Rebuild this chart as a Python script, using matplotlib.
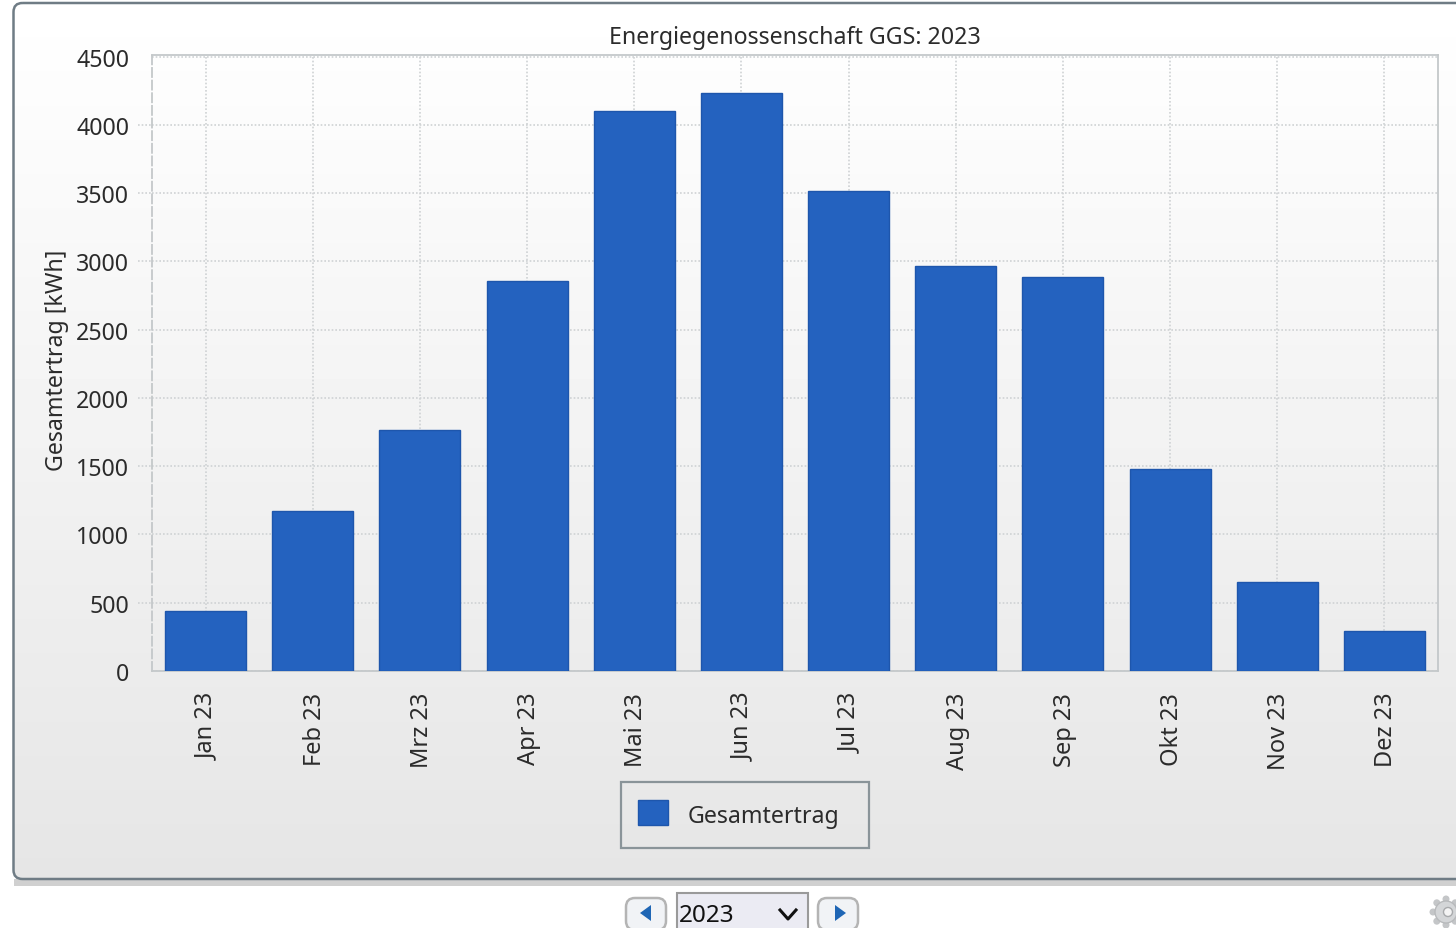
import numpy as np
import matplotlib
matplotlib.use("Agg")
import matplotlib.pyplot as plt
from matplotlib.patches import FancyBboxPatch, Rectangle, Circle, Polygon
from matplotlib.transforms import ScaledTranslation

plt.rcParams['font.family'] = ['Noto Sans', 'DejaVu Sans']

months = ["Jan 23", "Feb 23", "Mrz 23", "Apr 23", "Mai 23", "Jun 23",
          "Jul 23", "Aug 23", "Sep 23", "Okt 23", "Nov 23", "Dez 23"]
ertrag = [439, 1171, 1764, 2855, 4100, 4231, 3514, 2965, 2884, 1479, 651, 293]
y_ticks = [0, 500, 1000, 1500, 2000, 2500, 3000, 3500, 4000, 4500]
title = "Energiegenossenschaft GGS: 2023"
y_label = "Gesamtertrag [kWh]"
series_name = "Gesamtertrag"
year = "2023"

W, H = 1456, 929
BAR = "#2462BF"
EDGE = "#1E56AC"
TXT = "#2b2b2b"
FS = 16.7

fig = plt.figure(figsize=(W / 100, H / 100), dpi=100, facecolor="white")

# page layer in pixel coordinates
bg = fig.add_axes([0, 0, 1, 1], zorder=0)
bg.axis("off")

bg.add_patch(Rectangle((13.5, 879), W, 7, fc="#d0d0d0", ec="none"))
panel = FancyBboxPatch((13.5, 3), W + 40, 876, boxstyle="round,pad=0,rounding_size=9",
                       fc="none", ec="#6f7c85", lw=1.8, zorder=3)
bg.add_patch(panel)
grad = np.linspace(1.0, 0.9, 256).reshape(-1, 1)
im = bg.imshow(grad, cmap="gray", vmin=0, vmax=1, extent=(13.5, W + 40, 879, 3),
               aspect="auto", zorder=1)
im.set_clip_path(panel)
bg.set_xlim(0, W)
bg.set_ylim(H - 1, -1)


def nav_button(x0, pts):
    bg.add_patch(FancyBboxPatch((x0, 898), 40, 32, boxstyle="round,pad=0,rounding_size=9",
                                fc="#f1f3f6", ec="#b4b4b4", lw=1.8, zorder=2))
    bg.add_patch(Polygon(pts, closed=True, fc="#1f66b5", ec="none", zorder=3))


nav_button(626, [(640, 913), (651, 905), (651, 921)])
nav_button(818, [(846, 913), (835, 905), (835, 921)])
bg.add_patch(Rectangle((677, 893), 131, 45, fc="#ebebf3", ec="#9a9a9a", lw=1.5, zorder=2))
bg.text(679, 915, year, fontsize=17.5, color="#111111", va="center", ha="left", zorder=4)
bg.plot([780, 788, 796], [910, 919, 910], color="#111111", lw=2.2, zorder=4)

# settings cog at the page edge
for a in np.deg2rad(np.arange(0, 360, 45)):
    bg.add_patch(Circle((1446 + 13 * np.cos(a), 912 + 13 * np.sin(a)), 3.5,
                        fc="#c4c6c8", ec="none", zorder=2))
bg.add_patch(Circle((1446, 912), 11, fc="#d4d6d8", ec="#b8babc", lw=1, zorder=3))
bg.add_patch(Circle((1448, 912), 4.5, fc="#f4f4f4", ec="#a8aaac", lw=1, zorder=4))

# legend frame
bg.add_patch(Rectangle((621, 782), 248, 66, fc="none", ec="#8a9499", lw=1.6, zorder=4))

# chart
L, R, T, B = 152, 1438, 55.5, 672
ax = fig.add_axes([L / W, 1 - B / H, (R - L) / W, (B - T) / H], zorder=2)
ax.patch.set_alpha(0)
x = np.arange(len(months))
bars = ax.bar(x, ertrag, width=0.755, color=BAR, edgecolor=EDGE, linewidth=1,
              zorder=3, label=series_name)
ax.set_xlim(-0.5, 11.5)
ax.set_ylim(0, 4515)
ax.set_xticks(x)
ax.set_xticklabels(months, rotation=90, fontsize=17, color=TXT)
ax.set_yticks(y_ticks)
ax.tick_params(axis="y", length=0, pad=16.5, labelsize=FS, labelcolor=TXT)
ax.tick_params(axis="x", length=0, pad=15)
shift = ScaledTranslation(2 / 100, 0, fig.dpi_scale_trans)
for lab in ax.get_xticklabels():
    lab.set_transform(lab.get_transform() + shift)
ax.grid(True, linestyle=(0, (1, 1.2)), color="#cfd2d4", linewidth=1.2, zorder=0)
ax.set_axisbelow(True)
ax.hlines(y_ticks[1:-1], -0.632, -0.5, linestyles=[(0, (1, 1.2))], colors="#cfd2d4",
          linewidth=1.2, clip_on=False)
for s in ("top", "right", "bottom"):
    ax.spines[s].set_color("#c4c8ca")
    ax.spines[s].set_linewidth(1.3)
ax.spines["left"].set_color("#c4c8ca")
ax.spines["left"].set_linewidth(1.3)
ax.spines["left"].set_linestyle((0, (5, 2)))

fig.text(795 / W, 1 - 38.5 / H, title, fontsize=FS, color=TXT, ha="center", va="center")
fig.text(57 / W, 1 - 360 / H, y_label, fontsize=FS, color=TXT, rotation=90,
         ha="center", va="center")

leg = fig.legend(handles=[bars], labels=[series_name], loc="center left",
                 bbox_to_anchor=(638 / W, 1 - 814 / H), fontsize=FS, labelcolor=TXT,
                 frameon=False, handlelength=1.3, handleheight=1.3, handletextpad=0.82,
                 borderpad=0, borderaxespad=0)
leg.set_zorder(5)
for t in leg.get_texts():
    t.set_y(-2)

fig.savefig("out.png", dpi=100)
